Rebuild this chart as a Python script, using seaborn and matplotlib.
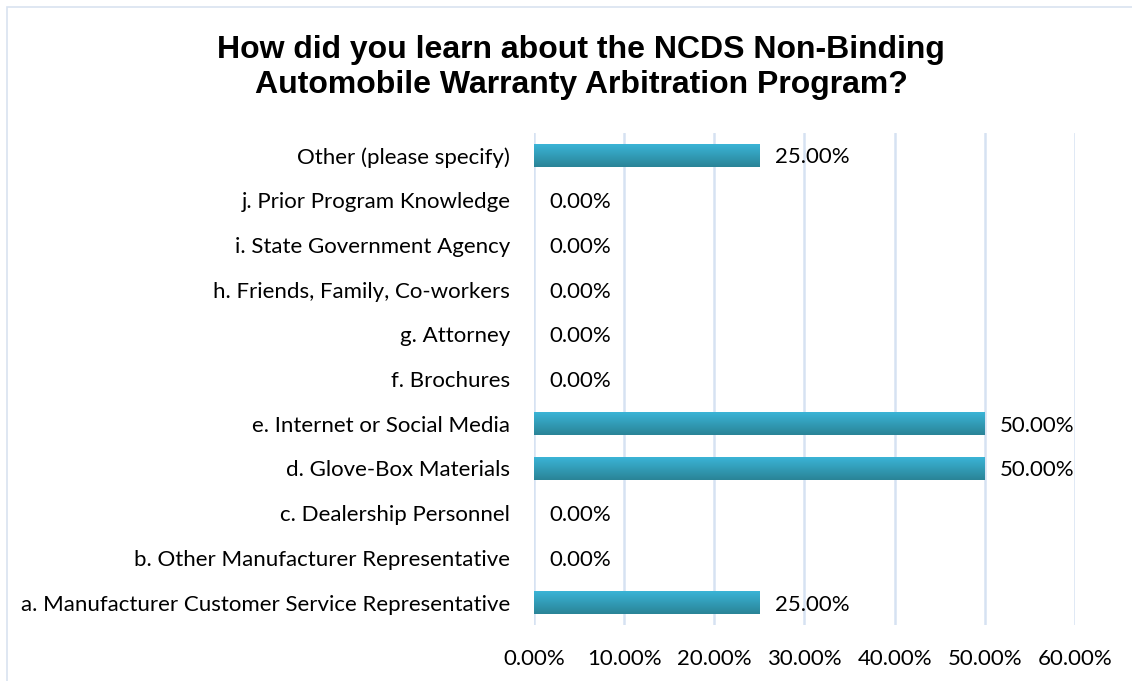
import matplotlib.pyplot as plt
import matplotlib.patches as mpatches
import numpy as np
import pandas as pd
import seaborn as sns

categories = [
    "Other (please specify)",
    "j. Prior Program Knowledge",
    "i. State Government Agency",
    "h. Friends, Family, Co-workers",
    "g. Attorney",
    "f. Brochures",
    "e. Internet or Social Media",
    "d. Glove-Box Materials",
    "c. Dealership Personnel",
    "b. Other Manufacturer Representative",
    "a. Manufacturer Customer Service Representative",
]
shares = [0.25, 0.0, 0.0, 0.0, 0.0, 0.0, 0.50, 0.50, 0.0, 0.0, 0.25]
x_ticks = [0.0, 0.1, 0.2, 0.3, 0.4, 0.5, 0.6]

df = pd.DataFrame({"category": categories, "share": shares})

sns.set_style("white")
plt.rcParams["font.family"] = ["Lato", "DejaVu Sans"]
plt.rcParams["text.color"] = "black"
plt.rcParams["xtick.color"] = "black"
plt.rcParams["ytick.color"] = "black"

fig = plt.figure(figsize=(11.32, 6.81), dpi=100)
ax = fig.add_axes([0.4717, 0.0822, 0.4779, 0.7225])

sns.barplot(data=df, x="share", y="category", orient="h", color="#31a9c7",
            width=0.52, linewidth=0, ax=ax, zorder=3)

# vertical gradient on each bar, lighter on top
grad = np.linspace(0, 1, 64).reshape(-1, 1)
cmap = sns.blend_palette(["#3bb6d9", "#2a8497"], as_cmap=True)
for p in ax.patches:
    w = p.get_width()
    if w <= 0:
        p.set_visible(False)
        continue
    y0, h = p.get_y(), p.get_height()
    im = ax.imshow(grad, cmap=cmap, aspect="auto", extent=[0, w, y0 + h, y0],
                   zorder=4, origin="upper")
    im.set_clip_path(p)

for i, v in enumerate(shares):
    ax.annotate(f"{v * 100:.2f}%", xy=(v, i), xytext=(11, 0), textcoords="offset points",
                va="center_baseline", ha="left", fontsize=16, color="black", zorder=5)

ax.set_xlim(0, 0.6)
ax.set_ylim(len(categories) - 0.5, -0.5)
ax.set_xticks(x_ticks)
ax.set_xticklabels([f"{t * 100:.2f}%" for t in x_ticks], fontsize=16)
ax.tick_params(axis="x", length=0, pad=17)
ax.tick_params(axis="y", length=0, pad=17, labelsize=16)
for lbl in ax.get_yticklabels():
    lbl.set_verticalalignment("center_baseline")
ax.xaxis.grid(True, color="#d6e2f2", linewidth=1.8, zorder=0)
ax.set_axisbelow(True)
for s in ax.spines.values():
    s.set_visible(False)
ax.set_xlabel("")
ax.set_ylabel("")

fig.text(0.5135, 0.901, "How did you learn about the NCDS Non-Binding\nAutomobile Warranty Arbitration Program?",
         ha="center", va="center", fontsize=23, fontweight="bold", color="black",
         family=["Liberation Sans", "DejaVu Sans"], linespacing=1.22)

fig.patches.append(mpatches.Rectangle((0.0062, -0.01), 1.1, 1.0, transform=fig.transFigure,
                                      fill=False, edgecolor="#d9e3f0", linewidth=1.2))

fig.savefig("out.png", dpi=100)
